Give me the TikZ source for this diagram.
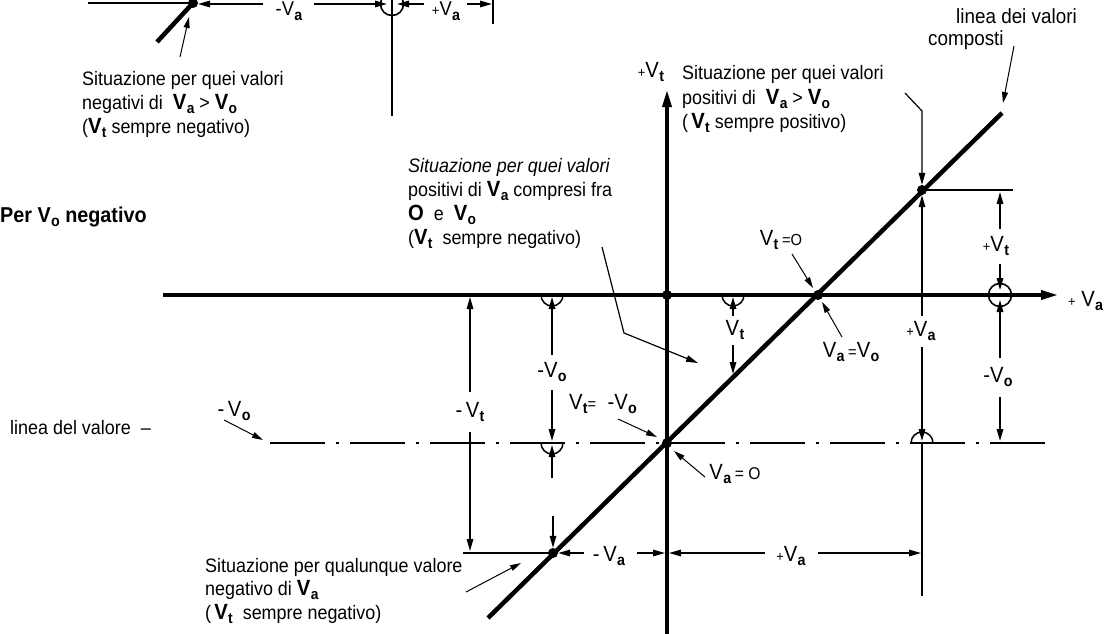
\documentclass[tikz,border=0pt]{standalone}
\usepackage{fontspec}
\setmainfont{Liberation Sans}[FakeStretch=0.92]
\usetikzlibrary{arrows.meta}
\newcommand{\fs}[1]{\fontsize{#1}{#1}\selectfont}
\newcommand{\VV}[1]{V\kern0.3pt\raisebox{-4.5pt}{\fs{15.5}\bfseries #1}}
\newcommand{\VB}[1]{{\bfseries\fs{22}V\kern0.3pt\raisebox{-4.5pt}{\fs{15}#1}}}
\newcommand{\pl}{{\fs{14}+}}
\begin{document}
\begin{tikzpicture}[x=1pt,y=-1pt,
  ax/.style={line width=3.4pt},
  dg/.style={line width=4.5pt},
  dm/.style={line width=1.5pt},
  ar/.style={dm,-{Triangle[length=12pt,width=6.5pt]}},
  tn/.style={line width=1pt,-{Triangle[length=11pt,width=6pt]}},
  bigar/.style={ax,-{Triangle[length=17pt,width=9pt]}},
  dd/.style={line width=2.2pt,dash pattern=on 55pt off 11pt on 3pt off 11pt},
  dotn/.style={circle,fill,inner sep=0pt,minimum size=10pt},
  ring/.style={circle,draw,line width=1.6pt,minimum size=23pt,inner sep=0pt},
  tx/.style={anchor=base west,inner sep=0pt,font=\fs{19.5}},
  lb/.style={inner sep=0pt,font=\fs{22}},
]
\useasboundingbox (0,0) rectangle (1108,634);
\clip (0,0) rectangle (1108,634);

% ---------- main axes ----------
\coordinate (axL) at (163,295); \coordinate (axR) at (1058,295);
\coordinate (vaB) at (667,634); \coordinate (vaT) at (667,90);
\draw[bigar] (axL) -- (axR);
\draw[bigar] (vaB) -- (vaT);
\node[lb,anchor=west] (axVa) at (1068,301) {\pl\ \VV{a}};
\node[lb] (pVt) at (651,72) {\pl\VV{t}};

% dash-dot line
\coordinate (ddL) at (270,443); \coordinate (ddR) at (1045,443);
\draw[dd] (ddL) -- (ddR);

% diagonal
\coordinate (dgB) at (488,618); \coordinate (dgT) at (1002,113);
\draw[dg] (dgB) -- (dgT);

% dots
\node[dotn] (O) at (667,295) {};
\node[dotn] (P1) at (818,295) {};
\node[dotn] (P2) at (667,443) {};
\node[dotn] (P3) at (922,190) {};
\node[dotn] (P4) at (553,553) {};

% ---------- top-left fragment ----------
\coordinate (tlA) at (88,3);
\node[dotn] (tlD) at (193,3) {};
\coordinate (tlG) at (157,42);
\draw[dm] (tlA) -- (tlD.center);
\draw[dg] (tlD.center) -- (tlG);
\node[ring] (tlC) at (392,4) {};
\coordinate (tlV1) at (392,0); \coordinate (tlV2) at (392,116);
\draw[line width=2.4pt] (tlV1) -- (tlV2);
\coordinate (tlR1) at (493,0); \coordinate (tlR2) at (493,24);
\draw[dm] (tlR1) -- (tlR2);
\node[lb,font=\fs{20}] (tlm) at (289,11) {-\VV{a}};
\coordinate (t1) at (263,4); \coordinate (t2) at (198,4);
\coordinate (t3) at (314,4); \coordinate (t4) at (387,4);
\draw[ar] (t1) -- (t2);
\draw[ar] (t3) -- (t4);
\node[lb,font=\fs{20}] (tlp) at (446,11) {\pl\VV{a}};
\coordinate (t5) at (424,4); \coordinate (t6) at (397,4);
\coordinate (t7) at (467,4); \coordinate (t8) at (492,4);
\draw[ar] (t5) -- (t6);
\draw[ar] (t7) -- (t8);
\coordinate (t9) at (180,57); \coordinate (t10) at (189,17);
\draw[tn] (t9) -- (t10);
\node[tx] (tl1) at (82,85) {Situazione per quei valori};
\node[tx] (tl2) at (82,109) {negativi di \ \VB{a} > \VB{o}};
\node[tx] (tl3) at (82,133) {(\VB{t} sempre negativo)};

% ---------- top-right ----------
\node[tx,font=\fs{20.5}] (tr0a) at (956,24) {linea dei valori};
\node[tx,font=\fs{20.5}] (tr0b) at (928,46) {composti};
\coordinate (tra1) at (1014,46); \coordinate (tra2) at (1003,103);
\draw[tn] (tra1) -- (tra2);
\node[tx] (tr1) at (682,80) {Situazione per quei valori};
\node[tx] (tr2) at (682,104) {positivi di \ \VB{a} > \VB{o}};
\node[tx] (tr3) at (682,128) {(\,\VB{t} sempre positivo)};
\coordinate (trb1) at (905,93); \coordinate (trb2) at (922,111);
\draw[line width=1.2pt,-{Triangle[length=12pt,width=6.5pt]}] (trb1) -- (trb2) -- (P3);

% ---------- left texts ----------
\node[anchor=base west,inner sep=0pt,font=\bfseries\fs{21.5}] (per) at (0,222) {Per \VV{o}\ negativo};
\node[tx] (ldv) at (10,434) {linea del valore \ --};
\node[lb] (lvo) at (234,411) {-\,\VV{o}};
\coordinate (lva1) at (224,420); \coordinate (lva2) at (263,440);
\draw[tn] (lva1) -- (lva2);

% ---------- middle block ----------
\node[tx] (m1) at (408,172) {\itshape Situazione per quei valori};
\node[tx] (m2) at (408,196) {positivi di \VB{a} compresi fra};
\node[tx] (m3) at (408,220) {{\bfseries\fs{22}O} \ e \ \VB{o}};
\node[tx] (m4) at (408,244) {(\VB{t} \ sempre negativo)};
\coordinate (mb1) at (602,247); \coordinate (mb2) at (624,333); \coordinate (mb3) at (698,363);
\draw[line width=1.2pt,-{Triangle[length=12pt,width=6.5pt]}] (mb1) -- (mb2) -- (mb3);

% ---------- -Vt dimension x=470 ----------
\node[lb] (mVt) at (470,412) {-\,\VV{t}};
\coordinate (vt1) at (470,392); \coordinate (vt2) at (470,297);
\coordinate (vt3) at (470,432); \coordinate (vt4) at (470,551);
\draw[ar] (vt1) -- (vt2);
\draw[ar] (vt3) -- (vt4);
\coordinate (bh1) at (463,553);
\draw[line width=2pt] (bh1) -- (P4.center);

% ---------- x=552 ----------
\node[lb] (mVo) at (552,372) {-\VV{o}};
\draw[dm] (541,295) arc[start angle=180,end angle=360,radius=11pt];
\draw[dm] (541,443) arc[start angle=180,end angle=360,radius=11pt];
\coordinate (c1) at (552,355); \coordinate (c2) at (552,297);
\coordinate (c3) at (552,390); \coordinate (c4) at (552,441);
\coordinate (c5) at (552,478); \coordinate (c6) at (552,445);
\coordinate (c7) at (553,516);
\draw[ar] (c1) -- (c2);
\draw[ar] (c3) -- (c4);
\draw[ar] (c5) -- (c6);
\draw[ar] (c7) -- (P4);

% ---------- x=733 ----------
\draw[dm] (722,295) arc[start angle=180,end angle=360,radius=11pt];
\node[lb] (vVt) at (735,330) {\VV{t}};
\coordinate (d1) at (733,316); \coordinate (d2) at (733,297);
\coordinate (d3) at (733,345); \coordinate (d4) at (733,374);
\draw[ar] (d1) -- (d2);
\draw[ar] (d3) -- (d4);

% ---------- x=922 ----------
\node[lb] (rVa) at (921,331) {\pl\VV{a}};
\coordinate (e1) at (922,316); \coordinate (e2) at (922,347);
\coordinate (e3) at (922,441); \coordinate (e4) at (922,443); \coordinate (e5) at (922,596);
\draw[ar] (e1) -- (P3);
\draw[ar] (e2) -- (e3);
\draw[dm] (911,443) arc[start angle=180,end angle=0,radius=11pt];
\draw[dm] (e4) -- (e5);

% ---------- x=1000 ----------
\coordinate (rh) at (1013,190);
\draw[line width=1.8pt] (P3.center) -- (rh);
\node[ring] (rC) at (1000,295) {};
\node[lb] (rVt) at (996,246) {\pl\VV{t}};
\node[lb] (rVo) at (998,377) {-\VV{o}};
\coordinate (f1) at (1000,229); \coordinate (f2) at (1000,192);
\coordinate (f3) at (1000,264); \coordinate (f4) at (1000,290);
\coordinate (f5) at (1000,358); \coordinate (f6) at (1000,300);
\coordinate (f7) at (1000,397); \coordinate (f8) at (1000,441);
\draw[ar] (f1) -- (f2);
\draw[ar] (f3) -- (f4);
\draw[ar] (f5) -- (f6);
\draw[ar] (f7) -- (f8);

% ---------- point labels ----------
\node[lb] (lVt0) at (781,240) {\VV{t}\,{\fs{16}=O}};
\coordinate (g1) at (792,254); \coordinate (g2) at (813,288);
\draw[tn] (g1) -- (g2);
\node[lb] (lVaVo) at (851,352) {\VV{a}\,{\fs{16}=}\VV{o}};
\coordinate (g3) at (842,337); \coordinate (g4) at (822,302);
\draw[tn] (g3) -- (g4);
\node[lb] (lVtVo) at (603,404) {\VV{t}{\fs{16}=}\ \ -\VV{o}};
\coordinate (g5) at (618,419); \coordinate (g6) at (657,437);
\draw[tn] (g5) -- (g6);
\node[lb] (lVa0) at (735,474) {\VV{a}\,{\fs{17}= O}};
\coordinate (g7) at (705,477); \coordinate (g8) at (674,451);
\draw[tn] (g7) -- (g8);

% ---------- bottom dims y=553 ----------
\node[lb] (bVa1) at (609,556) {-\,\VV{a}};
\coordinate (h1) at (584,553); \coordinate (h2) at (637,553); \coordinate (h3) at (665,553);
\draw[ar] (h1) -- (P4);
\draw[ar] (h2) -- (h3);
\node[lb] (bVa2) at (791,556) {\pl\VV{a}};
\coordinate (h4) at (765,553); \coordinate (h5) at (669,553);
\coordinate (h6) at (818,553); \coordinate (h7) at (921,553);
\draw[ar] (h4) -- (h5);
\draw[ar] (h6) -- (h7);

% ---------- bottom-left text ----------
\node[tx] (bl1) at (205,572) {Situazione per qualunque valore};
\node[tx] (bl2) at (205,595) {negativo di \VB{a}};
\node[tx] (bl3) at (205,619) {(\,\VB{t} \ sempre negativo)};
\coordinate (k1) at (466,592); \coordinate (k2) at (521,563);
\draw[tn] (k1) -- (k2);
\end{tikzpicture}
\end{document}
